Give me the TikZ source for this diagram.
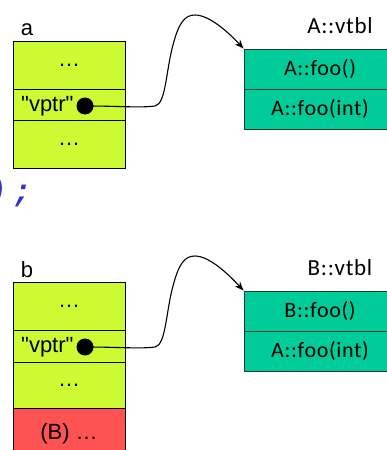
\documentclass[tikz,border=0pt]{standalone}
\usepackage{fontspec}
\setmainfont{Liberation Sans}[Ligatures=TeXOff]
\newfontfamily\vtfont{Carlito}[LetterSpace=3]
\newfontfamily\codefont{Liberation Mono}
\usetikzlibrary{arrows.meta}
\definecolor{objfill}{RGB}{204,250,51}
\definecolor{vtfill}{RGB}{0,204,153}
\definecolor{redfill}{RGB}{255,82,82}
\definecolor{codeblue}{RGB}{50,50,200}
\definecolor{vtline}{RGB}{30,60,45}
\tikzset{
  objcell/.style={draw=black, line width=0.9pt, fill=objfill, minimum width=112, inner sep=0pt, font=\fontsize{22}{24}\selectfont},
  redcell/.style={objcell, fill=redfill},
  vtcell/.style={draw=vtline, line width=0.9pt, fill=vtfill, minimum width=152, minimum height=40, inner sep=0pt, font=\vtfont\fontsize{22}{24}\selectfont},
  lbl/.style={inner sep=0pt, font=\fontsize{22}{24}\selectfont},
  vtlbl/.style={inner sep=0pt, font=\vtfont\fontsize{23}{25}\selectfont},
  ptrdot/.style={circle, fill=black, minimum size=17, inner sep=0pt},
  ptr/.style={line width=1.1pt, -{Stealth[length=9pt,width=7pt]}},
}
\begin{document}
\begin{tikzpicture}[x=1pt,y=-1pt]
\useasboundingbox (0,0) rectangle (387,450);
\clip (0,0) rectangle (387,450);
% object a
\node[lbl] (la) at (27,30) {a};
\node[objcell, minimum height=48] (a1) at (69,65) {…};
\node[objcell, minimum height=31.5] (a2) at (69,104.75) {};
\node[objcell, minimum height=47.5] (a3) at (69,144.25) {…};
\node[lbl, anchor=west] (av) at (21,106) {"vptr"};
\node[ptrdot] (da) at (85,106) {};
% vtbl A
\node[vtlbl] (lva) at (340,26) {A::vtbl};
\node[vtcell] (va1) at (320,69) {A::foo()};
\node[vtcell] (va2) at (320,109) {A::foo(int)};
% code fragment (cut at the left edge, as in the reference)
\node[inner sep=0pt, anchor=base west, text=codeblue, font=\codefont\bfseries\itshape\fontsize{31}{33}\selectfont] (code) at (-12,201) {)\kern6pt;};
% object b
\node[lbl] (lb) at (27,270) {b};
\node[objcell, minimum height=48] (b1) at (69,306) {…};
\node[objcell, minimum height=32] (b2) at (69,346) {};
\node[objcell, minimum height=46] (b3) at (69,385) {…};
\node[redcell, minimum height=52] (b4) at (69,434) {(B) …};
\node[lbl, anchor=west] (bv) at (21,347) {"vptr"};
\node[ptrdot] (db) at (85,347) {};
% vtbl B
\node[vtlbl] (lvb) at (340,268) {B::vtbl};
\node[vtcell] (vb1) at (320,311) {B::foo()};
\node[vtcell] (vb2) at (320,351) {A::foo(int)};
% pointers
\draw[ptr] (da.center) .. controls (120,106) and (140,108) .. (155,106)
  .. controls (166,104) and (166,70) .. (173,45)
  .. controls (179,22) and (185,15) .. (195,15)
  .. controls (210,15) and (230,34) .. (va1.north west);
\draw[ptr] (db.center) .. controls (120,347) and (140,349) .. (155,347)
  .. controls (166,345) and (166,311) .. (173,286)
  .. controls (179,263) and (185,256) .. (195,256)
  .. controls (210,256) and (230,276) .. (vb1.north west);
\end{tikzpicture}
\end{document}
